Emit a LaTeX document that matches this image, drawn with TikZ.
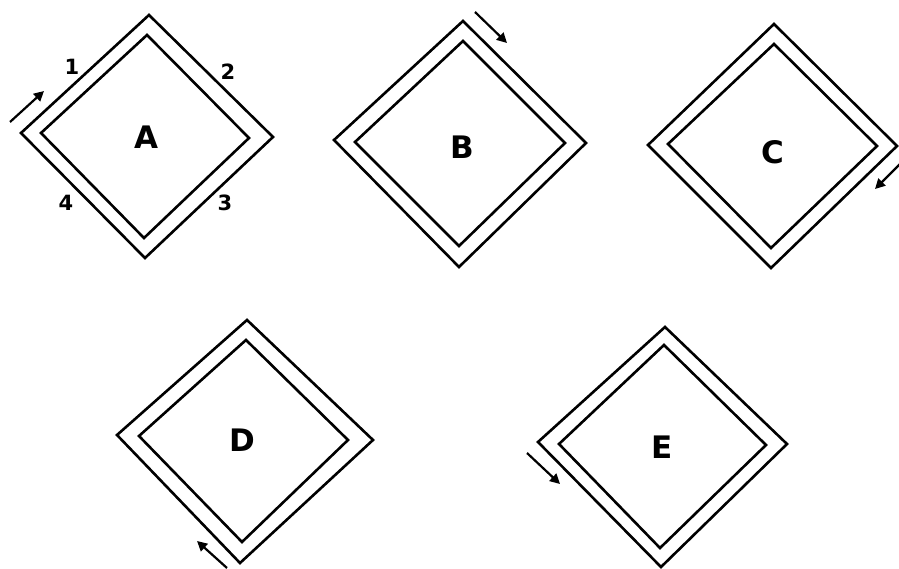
\documentclass[tikz,border=0pt]{standalone}
\usepackage{fontspec}
\setmainfont{Liberation Sans}
\newfontfamily\lblfont{DejaVu Sans}
\usetikzlibrary{arrows.meta}
\begin{document}
\begin{tikzpicture}[x=1pt,y=-1pt,
  wall/.style={draw=black,line width=2.6pt,line join=miter},
  lbl/.style={font=\lblfont\bfseries\fontsize{31}{31}\selectfont,inner sep=0pt},
  num/.style={font=\lblfont\bfseries\fontsize{21}{21}\selectfont,inner sep=0pt},
  arr/.style={line width=2.2pt,-{Triangle[length=10pt,width=10pt]}}]
\useasboundingbox (0,0) rectangle (899,569);
% A
\draw[wall] (149,15) -- (273,137) -- (145,258) -- (21,133) -- cycle;
\draw[wall] (147,35) -- (249,138) -- (144,238) -- (41,133) -- cycle;
\node[lbl] (A) at (146,137) {A};
\node[num] (n1) at (72,67) {1};
\node[num] (n2) at (228,72) {2};
\node[num] (n3) at (225,203) {3};
\node[num] (n4) at (66,203) {4};
\coordinate (a1) at (10,122); \coordinate (a2) at (44,91);
\draw[arr] (a1) -- (a2);
% B
\draw[wall] (463,21) -- (586,143) -- (459,267) -- (334,140) -- cycle;
\draw[wall] (463,41) -- (565,143) -- (459,246) -- (355,142) -- cycle;
\node[lbl] (B) at (462,147) {B};
\coordinate (b1) at (475,12); \coordinate (b2) at (507,43);
\draw[arr] (b1) -- (b2);
% C
\draw[wall] (774,24) -- (897,146) -- (771,268) -- (648,145) -- cycle;
\draw[wall] (774,44) -- (877,146) -- (771,248) -- (668,144) -- cycle;
\node[lbl] (C) at (773,152) {C};
\coordinate (c1) at (900,164); \coordinate (c2) at (875,189);
\draw[arr] (c1) -- (c2);
% D
\draw[wall] (247,320) -- (373,440) -- (240,563) -- (117,435) -- cycle;
\draw[wall] (246,340) -- (348,440) -- (242,542) -- (139,436) -- cycle;
\node[lbl] (D) at (242,440) {D};
\coordinate (d1) at (227,568); \coordinate (d2) at (197,541);
\draw[arr] (d1) -- (d2);
% E
\draw[wall] (665,327) -- (787,444) -- (661,567) -- (538,442) -- cycle;
\draw[wall] (664,345) -- (766,445) -- (660,548) -- (559,444) -- cycle;
\node[lbl] (E) at (662,447) {E};
\coordinate (e1) at (527,453); \coordinate (e2) at (560,484);
\draw[arr] (e1) -- (e2);
\end{tikzpicture}
\end{document}
